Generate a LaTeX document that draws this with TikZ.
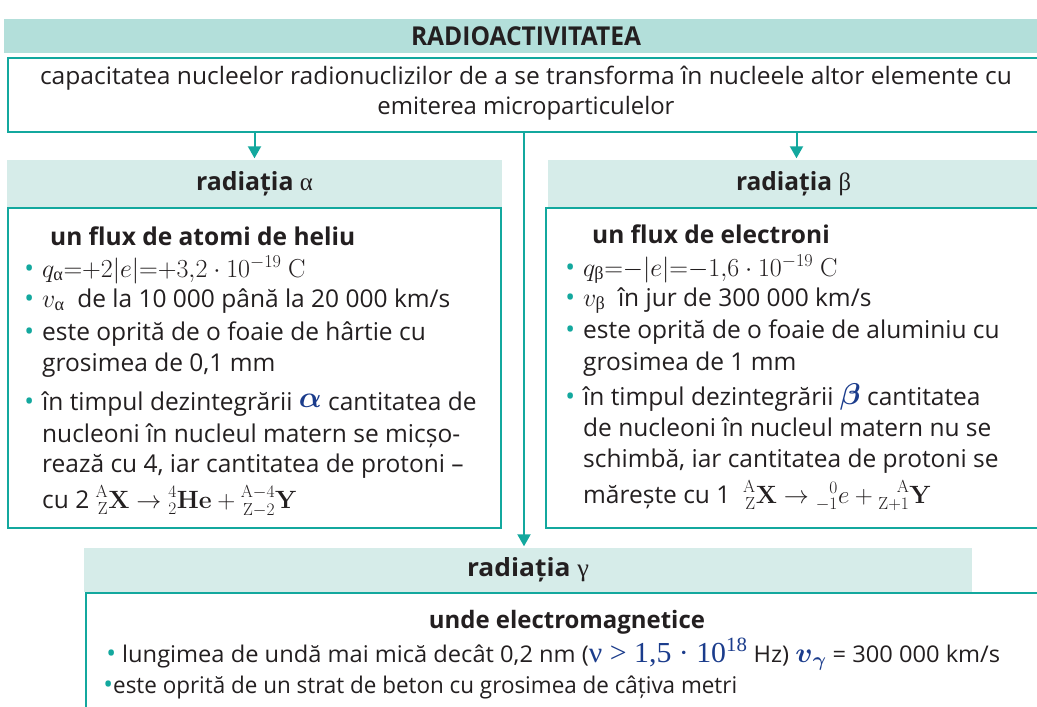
\RequirePackage{fix-cm}
\documentclass[tikz,border=0pt]{standalone}
\usepackage{amsmath,amssymb,mathtools}
\usepackage{graphicx}
\usepackage[no-math]{fontspec}
\setmainfont{Open Sans}
\newfontfamily\grk{Liberation Serif}
\usetikzlibrary{arrows.meta}
\definecolor{tealc}{HTML}{13A89E}
\definecolor{hdrA}{HTML}{B3DFDA}
\definecolor{hdrB}{HTML}{D6ECE9}
\definecolor{ink}{HTML}{231F20}
\definecolor{eqblue}{HTML}{1B3C8C}
\newcommand\W[2]{\resizebox{#1pt}{\height}{#2}}
\newcommand\bul{\llap{\textcolor{tealc}{\fontsize{26}{30}\selectfont•}\hspace{8pt}}}
\newcommand\ga{\text{\grk α}}
\newcommand\gb{\text{\grk β}}
\newcommand\mymth[1]{{\fontsize{26}{30}\selectfont$#1$}}
\newcommand\nucm[1]{{\fontsize{25}{30}\selectfont$#1$}}
\tikzset{
  band/.style={inner sep=0pt, text=ink, font=\fontsize{25}{28}\selectfont},
  panel/.style={draw=tealc, line width=2.5pt, fill=white, inner sep=0pt},
  txt/.style={anchor=base west, inner sep=0pt, text=ink, font=\fontsize{24.5}{30}\selectfont},
  ctxt/.style={anchor=base, inner sep=0pt, text=ink, font=\fontsize{24}{30}\selectfont},
  conn/.style={draw=tealc, line width=2pt, -{Triangle[length=12pt,width=13pt]}, shorten >=1.5pt},
}
\begin{document}
\begin{tikzpicture}[x=1pt,y=-1pt]
\clip (0,0) rectangle (1037,707);
\fill[white] (0,0) rectangle (1037,707);
% title
\node[band, fill=hdrA, minimum width=1044pt, minimum height=34pt] (title) at (526,36)
  {\W{230}{\fontsize{26}{28}\selectfont\textbf{RADIOACTIVITATEA}}};
\node[panel, minimum width=1036pt, minimum height=74pt] (def) at (526,95) {};
\node[ctxt] (d1) at (526,84) {\W{972}{capacitatea nucleelor radionuclizilor de a se transforma în nucleele altor elemente cu}};
\node[ctxt] (d2) at (526,114) {\W{297}{emiterea microparticulelor}};
% alpha
\node[band, fill=hdrB, minimum width=495pt, minimum height=47pt] (ahdr) at (254.5,183.5)
  {\W{117}{\textbf{radiația} {\grk α}}};
\node[panel, minimum width=493pt, minimum height=320pt] (abox) at (254.5,368) {};
% beta
\node[band, fill=hdrB, minimum width=491pt, minimum height=47pt] (bhdr) at (793.5,183.5)
  {\W{115}{\textbf{radiația} {\grk β}}};
\node[panel, minimum width=495pt, minimum height=320pt] (bbox) at (793.5,368) {};
% gamma
\node[band, fill=hdrB, minimum width=888pt, minimum height=44pt] (ghdr) at (528,570)
  {\W{122}{\textbf{radiația} {\grk γ}}};
\node[panel, minimum width=962pt, minimum height=127pt] (gbox) at (567,656.5) {};
% connectors
\draw[conn] (def.south -| ahdr.north) -- (ahdr.north);
\draw[conn] ([xshift=3pt]def.south -| bhdr.north) -- ([xshift=3pt]bhdr.north);
\draw[conn] ([xshift=-4pt]def.south -| ghdr.north) -- ([xshift=-4pt]ghdr.north);
% alpha text
\node[txt] (a0) at (50,245) {\textbf{un flux de atomi de heliu}};
\node[txt] (a1) at (42,277) {\bul\mymth{q_{\ga}{=}{+}2|e|{=}{+}3{,}2\cdot10^{-19}\ \mathrm{C}}};
\node[txt] (a2) at (42,307) {\bul\mymth{v_{\ga}}\ \ de la 10 000 până la 20 000 km/s};
\node[txt] (a3) at (42,340) {\bul este oprită de o foaie de hârtie cu};
\node[txt] (a4) at (42,371) {grosimea de 0,1 mm};
\node[txt] (a5) at (42,410) {\bul în timpul dezintegrării \raisebox{3pt}{\fontsize{30}{30}\selectfont$\color{eqblue}\boldsymbol{\alpha}$} cantitatea de};
\node[txt] (a6) at (42,442) {nucleoni în nucleul matern se micșo-};
\node[txt] (a7) at (42,472) {rează cu 4, iar cantitatea de protoni –};
\node[txt] (a8) at (42,508) {cu 2 \nucm{\prescript{\mathrm{A}}{\mathrm{Z}}{\mathbf{X}}\rightarrow\prescript{4}{2}{\mathbf{He}}+\prescript{\mathrm{A-4}}{\mathrm{Z-2}}{\mathbf{Y}}}};
% beta text
\node[txt] (b0) at (592,243) {\textbf{un flux de electroni}};
\node[txt] (b1) at (583,276) {\bul\mymth{q_{\gb}{=}{-}|e|{=}{-}1{,}6\cdot10^{-19}\ \mathrm{C}}};
\node[txt] (b2) at (583,306) {\bul\mymth{v_{\gb}}\ \ în jur de 300 000 km/s};
\node[txt] (b3) at (583,338) {\bul este oprită de o foaie de aluminiu cu};
\node[txt] (b4) at (583,370) {grosimea de 1 mm};
\node[txt] (b5) at (583,405) {\bul în timpul dezintegrării \raisebox{1pt}{\fontsize{30}{30}\selectfont$\color{eqblue}\boldsymbol{\beta}$} cantitatea};
\node[txt] (b6) at (583,436) {de nucleoni în nucleul matern nu se};
\node[txt] (b7) at (583,467) {schimbă, iar cantitatea de protoni se};
\node[txt] (b8) at (583,503) {mărește cu 1\ \ \nucm{\prescript{\mathrm{A}}{\mathrm{Z}}{\mathbf{X}}\rightarrow\prescript{0}{-1}{e}+\prescript{\mathrm{A}}{\mathrm{Z+1}}{\mathbf{Y}}}};
% gamma text
\node[ctxt] (g0) at (567,628) {\W{276}{\textbf{unde electromagnetice}}};
\node[txt, font=\fontsize{23}{28}\selectfont] (g1) at (122,662) {\llap{\textcolor{tealc}{\fontsize{26}{28}\selectfont•}\hspace{6pt}}\W{878}{lungimea de undă mai mică decât 0,2 nm ({\fontsize{29}{30}\selectfont\color{eqblue}\grk ν \textgreater{} 1,5 · 10\textsuperscript{18}} Hz) {\fontsize{28}{30}\selectfont$\color{eqblue}\boldsymbol{v}_{\boldsymbol{\gamma}}$} = 300 000 km/s}};
\node[txt, font=\fontsize{23}{28}\selectfont] (g2) at (113,693) {\llap{\textcolor{tealc}{\fontsize{26}{28}\selectfont•}\hspace{0pt}}\W{624}{este oprită de un strat de beton cu grosimea de câțiva metri}};
\end{tikzpicture}
\end{document}
